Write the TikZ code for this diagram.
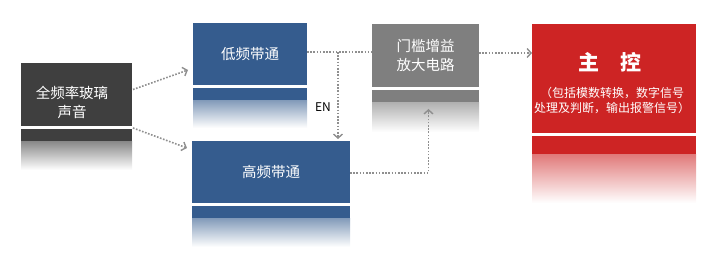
\documentclass[tikz,border=0pt]{standalone}
\usepackage{fontspec}
\newfontfamily\cjk{Noto Sans CJK SC}
\usetikzlibrary{arrows.meta}
\definecolor{darkbox}{HTML}{3F3F3F}
\definecolor{bandblue}{HTML}{355C8E}
\definecolor{ampgray}{HTML}{7F7F7F}
\definecolor{ctrlred}{HTML}{CD2424}
\definecolor{flowgray}{HTML}{8F8F8F}
\begin{document}
\begin{tikzpicture}[
	x=1pt, y=1pt,
	box/.style={ anchor=north west, inner sep=0pt, outer sep=0pt, text=white, align=center, font=\cjk\fontsize{14.5}{19}\selectfont },
	boxtext/.style={ text=white, align=center, inner sep=0pt, font=\cjk\fontsize{14.5}{19}\selectfont },
	flow/.style={ flowgray, line width=1.6pt, dash pattern=on 1.6pt off 1.6pt },
	flowarrow/.style={ flow, -{Straight Barb[length=4pt,width=9pt,line width=1.4pt]} }
]
\useasboundingbox (0,0) rectangle (716,-264);

\node at (21,-63) (src) [box,fill=darkbox,minimum width=111pt,minimum height=63pt] {};
\node at (72,-102.5) (srctext) [boxtext] {全频率玻璃\\声音};

\node at (193,-23) (lo) [box,fill=bandblue,minimum width=114pt,minimum height=62pt] {低频带通};
\node at (192,-141) (hi) [box,fill=bandblue,minimum width=158pt,minimum height=62pt] {高频带通};
\node at (372,-24) (amp) [box,fill=ampgray,minimum width=107pt,minimum height=63pt] {门槛增益\\放大电路};

\node at (532,-24) (ctrl) [box,fill=ctrlred,minimum width=164pt,minimum height=109pt] {};
\node at (610,-62) (ctrltitle) [boxtext,font=\cjk\bfseries\fontsize{21}{24}\selectfont] {主　控};
\node at (612,-100.5) (ctrlnote) [boxtext,font=\cjk\fontsize{12}{15}\selectfont] {（包括模数转换，数字信号\\处理及判断，输出报警信号）};

% strip and fade under each box
\foreach \n/\c/\s/\g in {src/darkbox/16/44, lo/bandblue/16/43, hi/bandblue/16/44, amp/ampgray/16/45, ctrl/ctrlred/22/70} {
	\fill[\c] ([yshift=-3pt]\n.south west) rectangle ([yshift=-\s pt]\n.south east);
	\shade[top color=\c!60, bottom color=white] ([yshift=-\s pt]\n.south west) rectangle ([yshift=-\g pt]\n.south east);
}

\draw[flowarrow] ([xshift=1pt,yshift=5pt]src.east) to ([xshift=-5pt,yshift=-16pt]lo.west);
\draw[flowarrow] ([xshift=1pt,yshift=-2pt]src.south east) to ([xshift=-5pt,yshift=-7pt]hi.north west);

\coordinate (split) at (338,-52);
\draw[flow] ([yshift=2pt]lo.east) to ([yshift=2pt]lo.east -| amp.west);
\draw[flowarrow] (split) to ([yshift=2pt]split |- hi.north);
\node at (323,-107) (en) [font=\cjk\fontsize{12}{14}\selectfont] {EN};

\draw[flowarrow] ([yshift=-1pt]hi.east) -| ([xshift=3pt,yshift=-22pt]amp.south);
\draw[flowarrow] ([yshift=2.5pt]amp.east) to ([yshift=2.5pt]amp.east -| ctrl.west);

\end{tikzpicture}
\end{document}
